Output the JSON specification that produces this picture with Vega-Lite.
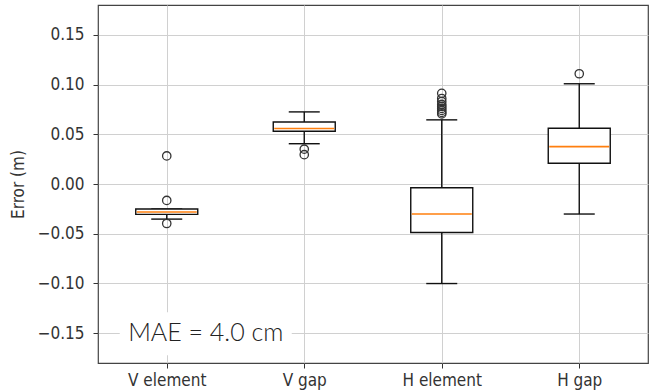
{
  "$schema": "https://vega.github.io/schema/vega-lite/v6.json",
  "autosize": {"type": "none"},
  "padding": {"left": 98, "top": 5, "right": 4, "bottom": 28},
  "width": 550,
  "height": 358,
  "background": "white",
  "config": {
    "view": {"stroke": "#444", "strokeWidth": 1.2},
    "axis": {
      "domain": false,
      "grid": true,
      "gridColor": "#d0d0d0",
      "gridWidth": 1,
      "tickColor": "#333",
      "tickSize": 5,
      "tickWidth": 1,
      "labelFont": "DejaVu Sans Condensed",
      "labelFontSize": 17,
      "labelColor": "#333",
      "titleFont": "DejaVu Sans Condensed",
      "titleFontSize": 17,
      "titleFontWeight": "normal",
      "titleColor": "#333"
    }
  },
  "datasets": {
    "stats": [
      {"cat": "V element", "lo": -0.0353, "q1": -0.0305, "med": -0.0282, "q3": -0.0252, "hi": -0.0252},
      {"cat": "V gap", "lo": 0.0405, "q1": 0.0530, "med": 0.0558, "q3": 0.0624, "hi": 0.0725},
      {"cat": "H element", "lo": -0.1001, "q1": -0.0487, "med": -0.0302, "q3": -0.0037, "hi": 0.0645},
      {"cat": "H gap", "lo": -0.0302, "q1": 0.0209, "med": 0.0376, "q3": 0.0561, "hi": 0.1008}
    ],
    "outliers": [
      {"cat": "V element", "v": 0.0282},
      {"cat": "V element", "v": -0.0165},
      {"cat": "V element", "v": -0.0397},
      {"cat": "V gap", "v": 0.0350},
      {"cat": "V gap", "v": 0.0295},
      {"cat": "H element", "v": 0.0912},
      {"cat": "H element", "v": 0.0860},
      {"cat": "H element", "v": 0.0830},
      {"cat": "H element", "v": 0.0800},
      {"cat": "H element", "v": 0.0780},
      {"cat": "H element", "v": 0.0760},
      {"cat": "H element", "v": 0.0740},
      {"cat": "H element", "v": 0.0720},
      {"cat": "H element", "v": 0.0705},
      {"cat": "H gap", "v": 0.1109}
    ],
    "note": [
      {"cat": "V element", "v": -0.15, "label": "MAE = 4.0 cm"}
    ]
  },
  "encoding": {
    "x": {
      "field": "cat",
      "type": "nominal",
      "sort": ["V element", "V gap", "H element", "H gap"],
      "scale": {"type": "point", "padding": 0.5, "domain": ["V element", "V gap", "H element", "H gap"]},
      "axis": {"title": null, "labelAngle": 0, "labelPadding": 4}
    }
  },
  "layer": [
    {
      "data": {"name": "stats"},
      "mark": {"type": "rule", "color": "#111", "strokeWidth": 1.4},
      "encoding": {
        "y": {
          "field": "lo", "type": "quantitative",
          "scale": {"domain": [-0.18, 0.18], "nice": false, "zero": false},
          "axis": {
            "title": "Error (m)",
            "values": [-0.15, -0.1, -0.05, 0, 0.05, 0.1, 0.15],
            "labelExpr": "replace(format(datum.value, '.2f'), '-', '\u2212')",
            "labelPadding": 9,
            "titlePadding": 10
          }
        },
        "y2": {"field": "q1"}
      }
    },
    {
      "data": {"name": "stats"},
      "mark": {"type": "rule", "color": "#111", "strokeWidth": 1.4},
      "encoding": {"y": {"field": "q3", "type": "quantitative"}, "y2": {"field": "hi"}}
    },
    {
      "data": {"name": "stats"},
      "mark": {"type": "tick", "color": "#111", "size": 31, "thickness": 1.4, "opacity": 1},
      "encoding": {"y": {"field": "lo", "type": "quantitative"}}
    },
    {
      "data": {"name": "stats"},
      "mark": {"type": "tick", "color": "#111", "size": 31, "thickness": 1.4, "opacity": 1},
      "encoding": {"y": {"field": "hi", "type": "quantitative"}}
    },
    {
      "data": {"name": "stats"},
      "mark": {"type": "bar", "width": 62, "fill": "white", "stroke": "#111", "strokeWidth": 1.4},
      "encoding": {"y": {"field": "q1", "type": "quantitative"}, "y2": {"field": "q3"}}
    },
    {
      "data": {"name": "stats"},
      "mark": {"type": "tick", "color": "#ff7f0e", "size": 60, "thickness": 1.6, "opacity": 1},
      "encoding": {"y": {"field": "med", "type": "quantitative"}}
    },
    {
      "data": {"name": "outliers"},
      "mark": {"type": "point", "shape": "circle", "filled": false, "stroke": "#333", "strokeWidth": 1.3, "size": 70, "opacity": 1},
      "encoding": {"y": {"field": "v", "type": "quantitative"}}
    },
    {
      "data": {"name": "note"},
      "mark": {"type": "bar", "fill": "white", "width": 172, "xOffset": 39, "yOffset": -21, "y2Offset": 22},
      "encoding": {"y": {"field": "v", "type": "quantitative"}, "y2": {"field": "v"}}
    },
    {
      "data": {"name": "note"},
      "mark": {"type": "text", "font": "Lato", "fontSize": 25, "fontWeight": 300, "color": "#222", "align": "center", "baseline": "alphabetic", "dx": 39, "dy": 8},
      "encoding": {"y": {"field": "v", "type": "quantitative"}, "text": {"field": "label"}}
    }
  ]
}
